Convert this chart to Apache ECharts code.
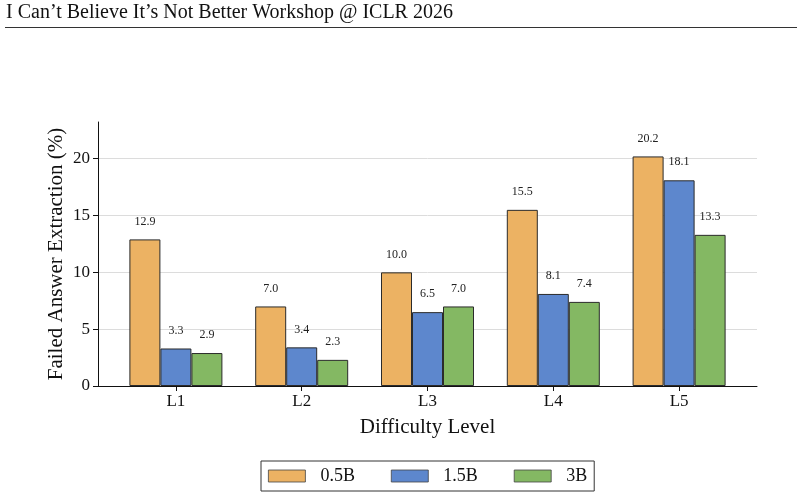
<!DOCTYPE html>
<html>
<head>
<meta charset="utf-8">
<script src="https://cdn.jsdelivr.net/npm/echarts@6/dist/echarts.min.js"></script>
<style>
  html, body { margin: 0; padding: 0; background: #fff; }
  #chart { width: 804px; height: 500px; }
</style>
</head>
<body>
<div id="chart"></div>
<script>
  // data
  const levels = ['L1', 'L2', 'L3', 'L4', 'L5']
  const models = ['0.5B', '1.5B', '3B']
  const vals05 = [12.9, 7.0, 10.0, 15.5, 20.2]
  const vals15 = [3.3, 3.4, 6.5, 8.1, 18.1]
  const vals3 = [2.9, 2.3, 7.0, 7.4, 13.3]
  const yTicks = [0, 5, 10, 15, 20]

  const colors = ['#ecb263', '#5d87cd', '#84b863']
  const font = 'Liberation Serif'
  const yMax = 23.23

  const chart = echarts.init(document.getElementById('chart'))

  function barSeries(name, data, color) {
    return {
      name: name,
      type: 'bar',
      xAxisIndex: 1,
      yAxisIndex: 1,
      data: data,
      barWidth: 31,
      barGap: '0%',
      itemStyle: { color: color, borderColor: '#2b2b2b', borderWidth: 1 },
      label: {
        show: true,
        position: 'top',
        distance: 12,
        fontFamily: font,
        fontSize: 12,
        color: '#222',
        formatter: p => p.value.toFixed(1)
      }
    }
  }

  chart.setOption({
    animation: false,
    textStyle: { fontFamily: font },
    graphic: [
      {
        type: 'text', left: 6, top: 3,
        style: { text: 'I Can\u2019t Believe It\u2019s Not Better Workshop @ ICLR 2026', font: '20px "Liberation Serif"', fill: '#111' }
      },
      {
        type: 'line', shape: { x1: 5, y1: 27.5, x2: 797, y2: 27.5 },
        style: { stroke: '#333', lineWidth: 1 }
      }
    ],
    grid: [
      { left: 98, right: 47, top: 122, bottom: 114 },
      { left: 113, right: 62, top: 122, bottom: 114 }
    ],
    legend: {
      data: models,
      icon: 'rect',
      left: 261,
      top: 461,
      itemWidth: 37,
      itemHeight: 12,
      itemGap: 36,
      padding: [6, 7, 6, 7],
      borderColor: '#333',
      borderWidth: 1,
      borderRadius: 0,
      itemStyle: { borderColor: '#444', borderWidth: 0.8 },
      textStyle: { fontFamily: font, fontSize: 18, color: '#111', padding: [0, 0, 0, 10] }
    },
    xAxis: [
      {
        gridIndex: 0, type: 'value', min: 0, max: 1,
        axisLine: { show: true, lineStyle: { color: '#111', width: 1 } },
        axisTick: { show: false }, axisLabel: { show: false }, splitLine: { show: false }
      },
      {
        gridIndex: 1, type: 'category', data: levels,
        axisLine: { show: true, lineStyle: { color: '#111', width: 1 } },
        axisTick: { show: true, alignWithLabel: true, length: 5, lineStyle: { color: '#111' } },
        axisLabel: { fontFamily: font, fontSize: 17, color: '#111', margin: 7 },
        name: 'Difficulty Level',
        nameLocation: 'middle',
        nameGap: 31,
        nameTextStyle: { fontFamily: font, fontSize: 21, color: '#111' }
      }
    ],
    yAxis: [
      {
        gridIndex: 0, type: 'value', min: 0, max: yMax, interval: 5,
        axisLine: { show: true, lineStyle: { color: '#111', width: 1 } },
        axisTick: { show: true, length: 5, lineStyle: { color: '#111' }, customValues: yTicks },
        axisLabel: { fontFamily: font, fontSize: 17, color: '#111', margin: 8, customValues: yTicks },
        splitLine: { show: true, lineStyle: { color: ['#dcdcdc', '#dcdcdc', '#dcdcdc', '#dcdcdc', '#dcdcdc', 'rgba(0,0,0,0)'], width: 1 } },
        name: 'Failed Answer Extraction (%)',
        nameLocation: 'middle',
        nameGap: 31,
        nameMoveOverlap: false,
        nameTextStyle: { fontFamily: font, fontSize: 21, color: '#111' }
      },
      {
        gridIndex: 1, type: 'value', min: 0, max: yMax,
        show: false, splitLine: { show: false }
      }
    ],
    series: [
      barSeries(models[0], vals05, colors[0]),
      barSeries(models[1], vals15, colors[1]),
      barSeries(models[2], vals3, colors[2])
    ]
  })
</script>
</body>
</html>
